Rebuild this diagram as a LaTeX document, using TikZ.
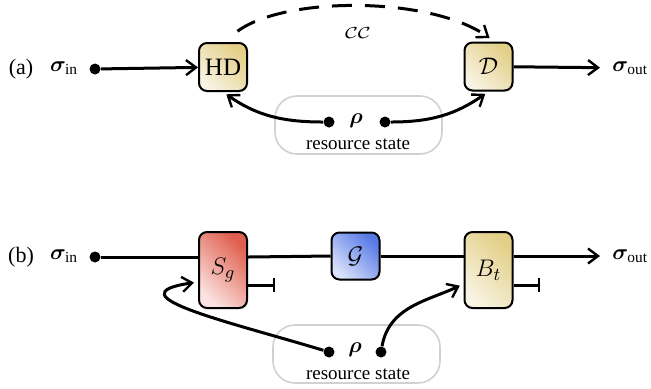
\documentclass[tikz,border=0pt]{standalone}
\usepackage{amsmath}
\usepackage{bm}
\usepackage{fontspec}
\setmainfont{Liberation Serif}
\usepackage{tikz}
\usepackage{xcolor}
\usetikzlibrary{arrows.meta,shadows}
\definecolor{goldD}{HTML}{E3CF86}
\definecolor{goldL}{HTML}{F8F3E2}
\definecolor{redD}{HTML}{DF5F4E}
\definecolor{redL}{HTML}{FCE3E1}
\definecolor{blueD}{HTML}{5679E6}
\definecolor{blueL}{HTML}{D9E1FB}
\tikzset{%
  tipA/.tip={Straight Barb[length=5pt,width=7.5pt,line width=1.2pt]},
  tipB/.tip={Bar[width=7pt,line width=1.2pt]},
  wire/.style={line width=1.5pt},
  dot/.style={circle,fill=black,inner sep=0pt,minimum size=5.5pt},
  gate/.style={draw,line width=1pt,rounded corners=4pt,minimum width=24pt,
    inner sep=0pt,drop shadow={opacity=0.2,shadow xshift=0.6pt,shadow yshift=-0.6pt}},
  gold/.style={gate,left color=goldL,right color=goldD,shading angle=135},
  red/.style={gate,left color=redL,right color=redD,shading angle=135},
  blue/.style={gate,left color=blueL,right color=blueD,shading angle=135},
  resbox/.style={draw=black!18,line width=0.8pt,rounded corners=11pt,
    minimum width=83.5pt,minimum height=29pt},
  lbl/.style={font=\fontsize{11}{13}\selectfont}
}

\begin{document}
\begin{tikzpicture}[x=0.5pt,y=0.5pt]
\useasboundingbox (0,0) rectangle (651,-388);
% (a)
\node[lbl] (taga) at (21,-69) {(a)};
\node[lbl] (sina) at (64,-68) {$\bm{\sigma}_{\text{in}}$};
\node[dot] (ina) at (95,-69) {};
\node[gold,minimum height=24pt,font=\fontsize{12.5}{14}\selectfont] (hd) at (223,-67) {HD};
\node[gold,minimum height=24pt,font=\fontsize{12.5}{14}\selectfont] (d) at (488.5,-66.5) {$\mathcal{D}$};
\node[lbl,anchor=west,inner sep=0pt] (souta) at (612,-68) {$\bm{\sigma}_{\text{out}}$};
\node[resbox] (resa) at (358.5,-125) {};
\node[lbl] (rhoa) at (356,-121) {$\bm{\rho}$};
\node[font=\fontsize{9.5}{11}\selectfont] (rsa) at (358,-144) {resource state};
\node[dot] (ra1) at (329,-122) {};
\node[dot] (ra2) at (385,-122) {};
\node[font=\fontsize{8}{9}\selectfont] (cc) at (358,-33) {\scalebox{1.3}[1]{$\mathcal{CC}$}};
\draw[wire,-tipA] (ina) -- (hd);
\draw[wire,-tipA,shorten >=6pt] (d) -- (souta);
\draw[wire,dash pattern=on 10pt off 6.5pt,-tipA,shorten <=9pt,shorten >=3pt]
  (hd.north) .. controls (285,4) and (430,4) .. ([xshift=3pt]d.north);
\draw[wire,-tipA,shorten >=2pt] (ra1) to[out=180,in=-35] (hd.south);
\draw[wire,-tipA,shorten >=2pt] (ra2) to[out=0,in=-145] (d.south);
% (b)
\node[lbl] (tagb) at (21,-257) {(b)};
\node[lbl] (sinb) at (64,-256) {$\bm{\sigma}_{\text{in}}$};
\node[dot] (inb) at (95,-257) {};
\node[red,minimum height=38pt,font=\fontsize{12.5}{14}\selectfont] (sg) at (223,-270) {$S_g$};
\node[blue,minimum height=23.5pt,font=\fontsize{12.5}{14}\selectfont] (g) at (355.5,-256) {$\mathcal{G}$};
\node[gold,minimum height=38pt,font=\fontsize{12.5}{14}\selectfont] (bt) at (488.5,-270) {$B_t$};
\node[lbl,anchor=west,inner sep=0pt] (soutb) at (612,-256) {$\bm{\sigma}_{\text{out}}$};
\coordinate (sgend) at (275,-285);
\coordinate (btend) at (540,-285);
\node[resbox] (resb) at (356.5,-354) {};
\node[lbl] (rhob) at (355,-350) {$\bm{\rho}$};
\node[font=\fontsize{9.5}{11}\selectfont] (rsb) at (358,-374) {resource state};
\node[dot] (rb1) at (329,-352) {};
\node[dot] (rb2) at (381,-352) {};
\draw[wire] (inb) -- (inb -| sg.west);
\draw[wire] (sg.east |- inb) -- (g.west);
\draw[wire] (g.east) -- (bt.west |- g);
\draw[wire,-tipA,shorten >=6pt] (bt.east |- g) -- (soutb);
\draw[wire,-tipB] (sg.east |- sgend) -- (sgend);
\draw[wire,-tipB] (bt.east |- btend) -- (btend);
\draw[wire,-tipA,shorten >=2pt] (rb1) .. controls (230,-322) and (110,-295) .. (sg.west |- 0,-282);
\draw[wire,-tipA,shorten >=2pt] (rb2) to[out=80,in=205] (bt.west |- 0,-284);
\end{tikzpicture}
\end{document}
